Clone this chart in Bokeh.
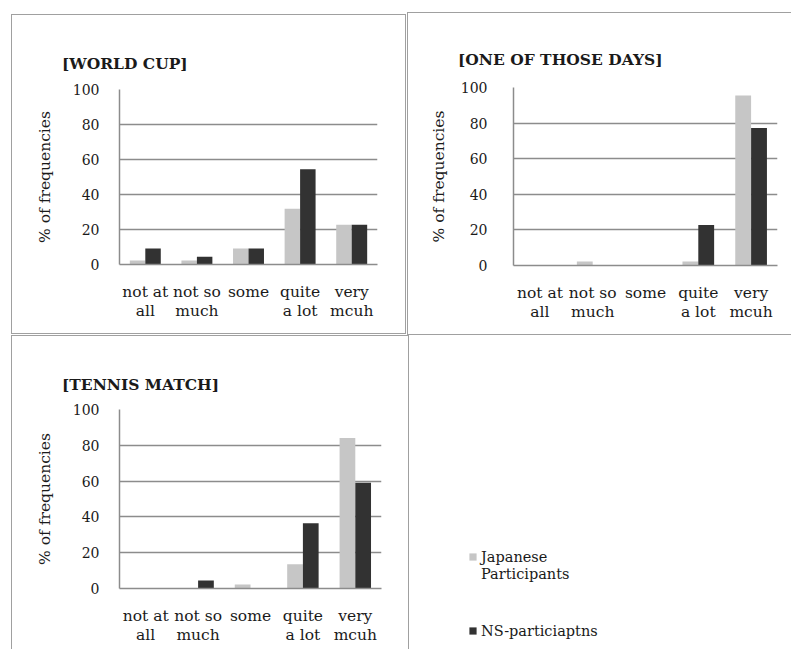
from bokeh.plotting import figure
from bokeh.models import FactorRange, Range1d, Legend, LegendItem, ColumnDataSource
from bokeh.transform import dodge
from bokeh.layouts import column, row
from bokeh.embed import file_html
from bokeh.resources import INLINE

categories = ["not at\nall", "not so\nmuch", "some", "quite\na lot", "very\nmcuh"]
series_names = ["Japanese\nParticipants", "NS-particiaptns"]
titles = ["[WORLD CUP]", "[ONE OF THOSE DAYS]", "[TENNIS MATCH]"]
y_label = "% of frequencies"
y_ticks = [0, 20, 40, 60, 80, 100]

worldcup_jp = [2.3, 2.3, 9.1, 31.8, 22.7]
worldcup_ns = [9.1, 4.5, 9.1, 54.5, 22.7]
days_jp = [0, 2.3, 0, 2.3, 95.5]
days_ns = [0, 0, 0, 22.7, 77.3]
tennis_jp = [0, 0, 2.3, 13.6, 84.1]
tennis_ns = [0, 4.5, 0, 36.4, 59.1]

LIGHT = "#c6c6c6"
DARK = "#323232"
GRID = "#8c8c8c"
BORDER = "#a0a0a0"
TXT = "#1a1a1a"
FONT = "DejaVu Serif"


def make_panel(title, jp, ns, width, height, mleft, mright, mtop, mbottom,
               title_offset, title_standoff, tick_standoff, label_standoff,
               margin, border_width):
    src = ColumnDataSource(dict(cat=categories, jp=jp, ns=ns))
    p = figure(x_range=FactorRange(*categories), y_range=Range1d(0, 100),
               width=width, height=height, output_backend="svg",
               toolbar_location=None, margin=margin,
               min_border_left=mleft, min_border_right=mright,
               min_border_top=mtop, min_border_bottom=mbottom,
               styles={"border-style": "solid", "border-color": BORDER,
                       "border-width": border_width})
    p.vbar(x=dodge("cat", -0.15, range=p.x_range), top="jp", width=0.3,
           source=src, fill_color=LIGHT, line_color=None)
    p.vbar(x=dodge("cat", 0.15, range=p.x_range), top="ns", width=0.3,
           source=src, fill_color=DARK, line_color=None)
    p.title.text = title
    p.title.text_font = FONT
    p.title.text_font_size = "15.5px"
    p.title.text_font_style = "bold"
    p.title.text_color = TXT
    p.title.align = "left"
    p.title.offset = title_offset
    p.title.standoff = title_standoff
    p.outline_line_color = None
    p.xgrid.grid_line_color = None
    p.ygrid.grid_line_color = GRID
    p.ygrid.grid_line_width = 1.5
    p.yaxis.ticker = y_ticks
    p.yaxis.axis_label = y_label
    p.yaxis.axis_label_text_font = FONT
    p.yaxis.axis_label_text_font_size = "15.5px"
    p.yaxis.axis_label_text_font_style = "normal"
    p.yaxis.axis_label_text_color = TXT
    p.yaxis.axis_label_standoff = label_standoff
    for ax in (p.xaxis[0], p.yaxis[0]):
        ax.axis_line_color = GRID
        ax.axis_line_width = 1.5
        ax.major_tick_line_color = None
        ax.minor_tick_line_color = None
        ax.major_tick_out = 0
        ax.major_label_text_font = FONT
        ax.major_label_text_color = TXT
    p.yaxis.major_label_text_font_size = "14px"
    p.yaxis.major_label_standoff = tick_standoff
    p.xaxis.major_label_text_font_size = "15.5px"
    p.xaxis.major_label_standoff = 18
    p.xaxis.major_label_text_line_height = 1.1
    return p, src


p1, _ = make_panel(titles[0], worldcup_jp, worldcup_ns, 395, 320,
                   107, 30, 74, 69, -57.5, 34, 20, 16, (14, 0, 0, 11), "1.5px")
p2, _ = make_panel(titles[1], days_jp, days_ns, 384, 323,
                   105, 15, 72, 71, -55.5, 37, 26, 10, (12, 0, 0, 1),
                   "1.5px 0 1.5px 1.5px")
p3, tennis_src = make_panel(titles[2], tennis_jp, tennis_ns, 398, 314,
                            107, 29, 73, 62, -57.5, 32, 20, 16, (0, 0, 0, 11),
                            "1.5px 1.5px 0 1.5px")

# legend panel: series keys come from the tennis series (range keeps bars out of view)
p4 = figure(width=380, height=314, output_backend="svg", toolbar_location=None,
            min_border_left=0, min_border_right=0, min_border_top=0,
            min_border_bottom=0, x_range=FactorRange(*categories),
            y_range=Range1d(1000, 2000))
p4.axis.visible = False
p4.grid.visible = False
p4.outline_line_color = None
k1 = p4.vbar(x="cat", top="jp", width=0.3, source=tennis_src,
             fill_color=LIGHT, line_color=None)
k2 = p4.vbar(x="cat", top="ns", width=0.3, source=tennis_src,
             fill_color=DARK, line_color=None)

jp_lines = series_names[0].split("\n")
common = dict(glyph_width=9, glyph_height=9, label_standoff=4, spacing=0,
              padding=0, margin=0, label_text_font=FONT,
              label_text_font_size="14.5px", label_text_color=TXT,
              label_height=17, border_line_color=None, background_fill_alpha=0)
# canvas-relative: frame covers the whole legend figure
legend_a = Legend(items=[LegendItem(label=jp_lines[0], renderers=[k1]),
                         LegendItem(label=jp_lines[1], renderers=[])],
                  location=(59, 67), **common)
legend_b = Legend(items=[LegendItem(label=series_names[1], renderers=[k2])],
                  location=(59, 10), **common)
p4.add_layout(legend_a, "center")
p4.add_layout(legend_b, "center")

layout = column(row(p1, p2), row(p3, column(p4)))

open("out.html", "w").write(file_html(layout, INLINE))
